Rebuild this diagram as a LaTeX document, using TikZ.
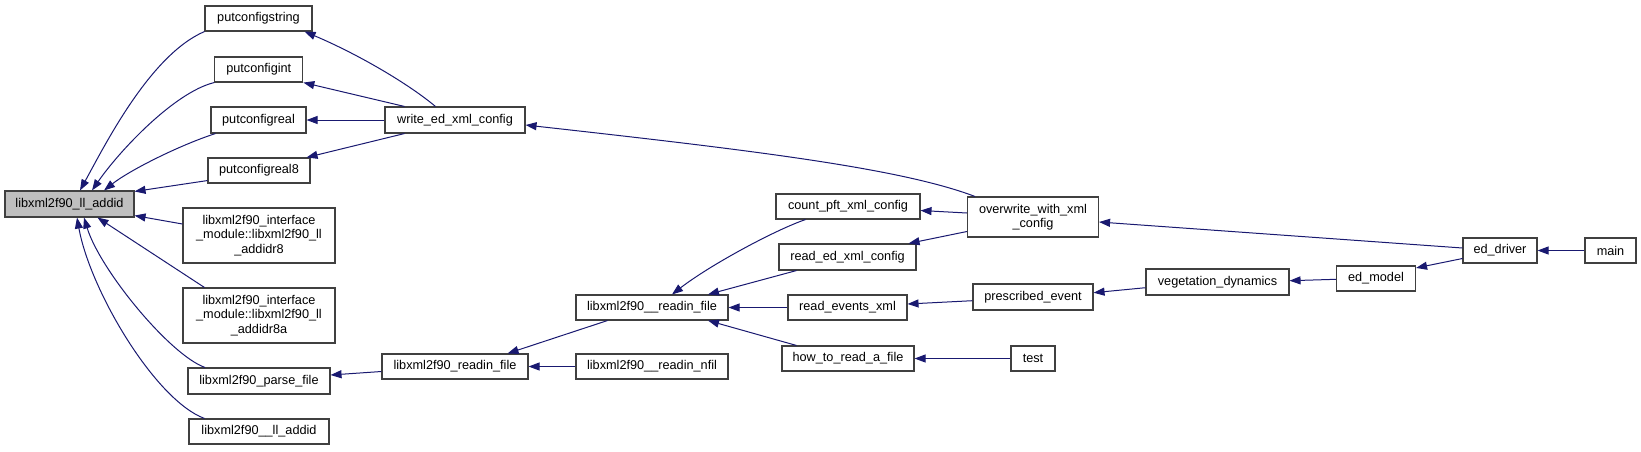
\documentclass[tikz,border=0pt]{standalone}
\usepackage{fontspec}
\setmainfont{Liberation Sans}
\usetikzlibrary{arrows.meta,calc}
\definecolor{edgec}{HTML}{191970}
\definecolor{boxc}{HTML}{404040}
\begin{document}
\begin{tikzpicture}[x=1pt,y=-1pt,
  box/.style={draw=boxc, line width=1.1pt, fill=white, inner sep=0pt, align=center,
    font=\fontsize{12.7}{14.5}\selectfont, text=black},
  edge/.style={draw=edgec, line width=1pt, -{Triangle[length=11pt,width=8pt]}}]
\useasboundingbox (0,0) rectangle (1641,451);
% nodes
\node[box, fill=gray!50, minimum width=129pt, minimum height=26pt] (a) at (69.5,204) {libxml2f90\_ll\_addid};
\node[box, minimum width=107pt, minimum height=25pt] (ps) at (258.5,18.5) {putconfigstring};
\node[box, minimum width=88pt, minimum height=25pt] (pi) at (258.8,69.5) {putconfigint};
\node[box, minimum width=95pt, minimum height=26pt] (pr) at (258.5,120) {putconfigreal};
\node[box, minimum width=102pt, minimum height=25pt] (pr8) at (259,170.5) {putconfigreal8};
\node[box, minimum width=152pt, minimum height=55pt] (r8) at (259,235.5) {libxml2f90\_interface\\\_module::libxml2f90\_ll\\\_addidr8};
\node[box, minimum width=152pt, minimum height=55pt] (r8a) at (259,315.5) {libxml2f90\_interface\\\_module::libxml2f90\_ll\\\_addidr8a};
\node[box, minimum width=142pt, minimum height=26pt] (pf) at (259,381) {libxml2f90\_parse\_file};
\node[box, minimum width=140pt, minimum height=25pt] (la) at (259,431.5) {libxml2f90\_\_ll\_addid};
\node[box, minimum width=140pt, minimum height=26pt] (w) at (455,120) {write\_ed\_xml\_config};
\node[box, minimum width=146pt, minimum height=25pt] (rf) at (455,366.5) {libxml2f90\_readin\_file};
\node[box, minimum width=152pt, minimum height=25pt] (rf2) at (652,307.5) {libxml2f90\_\_readin\_file};
\node[box, minimum width=152pt, minimum height=25pt] (rn) at (652,366.5) {libxml2f90\_\_readin\_nfil};
\node[box, minimum width=144pt, minimum height=25pt] (cp) at (848,206.5) {count\_pft\_xml\_config};
\node[box, minimum width=137pt, minimum height=26pt] (re) at (847.5,257) {read\_ed\_xml\_config};
\node[box, minimum width=119pt, minimum height=25pt] (rev) at (847.5,307.5) {read\_events\_xml};
\node[box, minimum width=132pt, minimum height=25pt] (how) at (848,358.5) {how\_to\_read\_a\_file};
\node[box, minimum width=131pt, minimum height=40pt] (ow) at (1033,217) {overwrite\_with\_xml\\\_config};
\node[box, minimum width=120pt, minimum height=26pt] (pe) at (1033,297) {prescribed\_event};
\node[box, minimum width=44pt, minimum height=25pt] (t) at (1033,358.5) {test};
\node[box, minimum width=143pt, minimum height=26pt] (vd) at (1217.5,282) {vegetation\_dynamics};
\node[box, minimum width=79pt, minimum height=25pt] (em) at (1376,278.5) {ed\_model};
\node[box, minimum width=74pt, minimum height=25pt] (ed) at (1500,250.5) {ed\_driver};
\node[box, minimum width=51pt, minimum height=25pt] (mn) at (1610.5,250.5) {main};
% edges into libxml2f90_ll_addid
\draw[edge] (ps.south west) .. controls (150,55) and (105,145) .. ($(a.north)+(10.5,0)$);
\draw[edge] (pi.south west) .. controls (175,92) and (120,150) .. ($(a.north)+(22.5,0)$);
\draw[edge] ($(pr.south west)+(5,0)$) .. controls (180,145) and (130,170) .. ($(a.north)+(34.5,0)$);
\draw[edge] ($(pr8.south west)+(0,-3)$) -- ($(a.north east)+(0,1)$);
\draw[edge] ($(r8.west)+(0,-11.5)$) -- ($(a.south east)+(0,-2)$);
\draw[edge] ($(r8a.north west)+(22,0)$) -- ($(a.south)+(28,0)$);
\draw[edge] ($(pf.north west)+(17.5,0)$) .. controls (170,355) and (100,270) .. ($(a.south)+(14.5,0)$);
\draw[edge] ($(la.north west)+(16,0)$) .. controls (155,400) and (90,290) .. ($(a.south)+(7.5,0)$);
% write_ed_xml_config
\draw[edge] ($(w.north west)+(51,0)$) .. controls (410,85) and (360,55) .. ($(ps.south east)+(-8,0)$);
\draw[edge] ($(w.north west)+(20,0)$) -- (pi.south east);
\draw[edge] (w.west) -- (pr.east);
\draw[edge] ($(w.south west)+(20,0)$) -- ($(pr8.north east)+(-4,0)$);
\draw[edge] ($(ow.north west)+(8,0)$) .. controls (900,168) and (750,150) .. ($(w.east)+(0,5)$);
% readin chain
\draw[edge] ($(rf.west)+(0,5)$) -- ($(pf.east)+(0,-6)$);
\draw[edge] ($(rf2.south west)+(32,0)$) -- ($(rf.north east)+(-21,0)$);
\draw[edge] (rn.west) -- (rf.east);
\draw[edge] ($(cp.south west)+(30,0)$) .. controls (775,230) and (710,265) .. ($(rf2.north)+(20,0)$);
\draw[edge] ($(re.south west)+(18,0)$) -- ($(rf2.north)+(56,0)$);
\draw[edge] (rev.west) -- (rf2.east);
\draw[edge] ($(how.north west)+(15,0)$) -- ($(rf2.south)+(56,0)$);
% overwrite
\draw[edge] ($(ow.west)+(0,-4)$) -- ($(cp.east)+(0,4)$);
\draw[edge] ($(ow.west)+(0,14.5)$) -- ($(re.north east)+(-8,0)$);
\draw[edge] ($(ed.west)+(0,-2.5)$) -- ($(ow.east)+(0,5)$);
% right part
\draw[edge] ($(pe.west)+(0,3.7)$) -- ($(rev.east)+(0,-3.5)$);
\draw[edge] ($(vd.west)+(0,5.7)$) -- ($(pe.east)+(0,-4.3)$);
\draw[edge] ($(em.west)+(0,0.8)$) -- ($(vd.east)+(0,-1.3)$);
\draw[edge] ($(ed.west)+(0,8)$) -- ($(em.north east)+(0,2.5)$);
\draw[edge] (mn.west) -- (ed.east);
\draw[edge] (t.west) -- (how.east);
\end{tikzpicture}
\end{document}
